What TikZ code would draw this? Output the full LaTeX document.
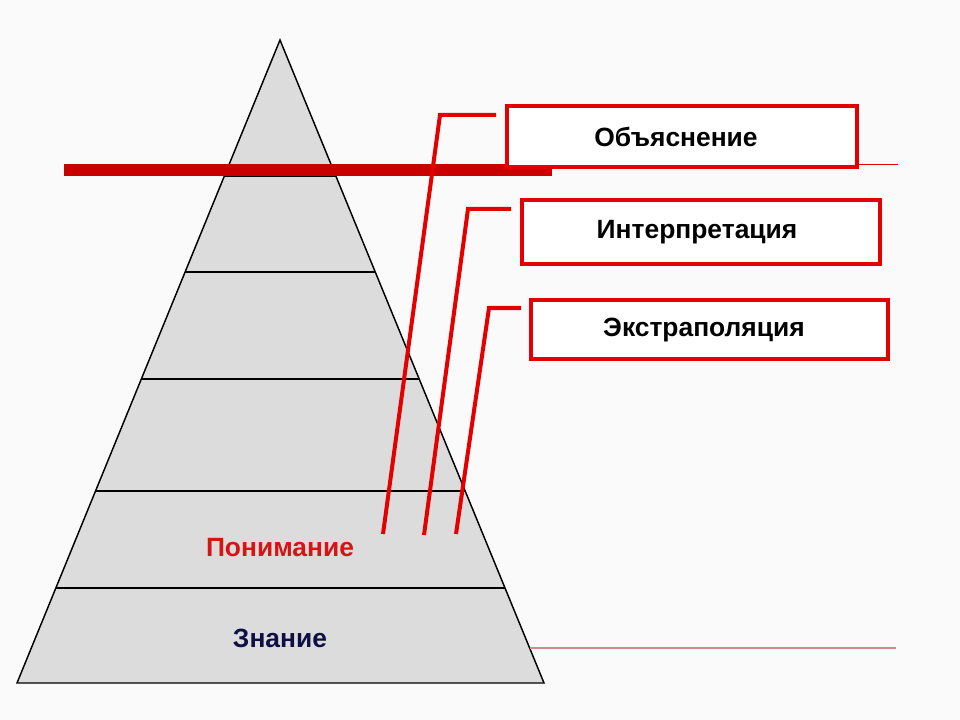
\documentclass[tikz,border=0pt]{standalone}
\usepackage{fontspec}
\setmainfont{Liberation Sans}
\usetikzlibrary{calc}
\definecolor{pagebg}{RGB}{250,250,250}
\definecolor{pyrgray}{RGB}{220,220,220}
\definecolor{boxred}{RGB}{228,0,0}
\definecolor{barred}{RGB}{200,0,0}
\definecolor{undred}{RGB}{215,20,20}
\definecolor{knownavy}{RGB}{15,15,70}
\definecolor{rulered}{RGB}{205,140,140}

\begin{document}
\begin{tikzpicture}[x=0.75pt,y=-0.75pt,
    every node/.style={font=\bfseries\fontsize{19.8}{23}\selectfont,inner sep=0pt},
    level/.style={draw=black,line width=0.9pt},
    box/.style={draw=boxred,line width=3pt,fill=white,anchor=north west},
    link/.style={draw=boxred,line width=3pt}]
  \fill[pagebg] (0,0) rectangle (960,720);
  % pyramid
  \filldraw[fill=pyrgray,draw=black,line width=1.1pt]
    (280,40) coordinate (top) -- (544,683) coordinate (br) -- (17,683) coordinate (bl) -- cycle;
  \foreach \y in {176,272,379,491,588}
    \draw[level] ($(top)!{(\y-40)/643}!(bl)$) -- ($(top)!{(\y-40)/643}!(br)$);
  \fill[barred] (64,164) rectangle (552,176);
  \draw[boxred,line width=0.7pt] (852,164) -- (898,164);
  \draw[rulered,line width=0.8pt] (530,648) -- (896,648);
  \node[text=undred] (under) at (280,548) {Понимание};
  \node[text=knownavy] (know) at (280,638) {Знание};
  % links to the boxes
  \coordinate (e1) at (383,534);
  \coordinate (e2) at (424,535);
  \coordinate (e3) at (456,534);
  \draw[link] (e1) -- (440,115) -- (496,115);
  \draw[link] (e2) -- (468,209) -- (511,209);
  \draw[link] (e3) -- (489,308) -- (521,308);
  \node[box,minimum width=262.5pt,minimum height=45.75pt] (expl) at (505,104) {};
  \node[box,minimum width=268.5pt,minimum height=48pt] (interp) at (520,198) {};
  \node[box,minimum width=267.75pt,minimum height=44.25pt] (extra) at (529,298) {};
  \node at (676,137) {Объяснение};
  \node at (697,232) {Интерпретация};
  \node at (704,330) {Экстраполяция};
\end{tikzpicture}
\end{document}
